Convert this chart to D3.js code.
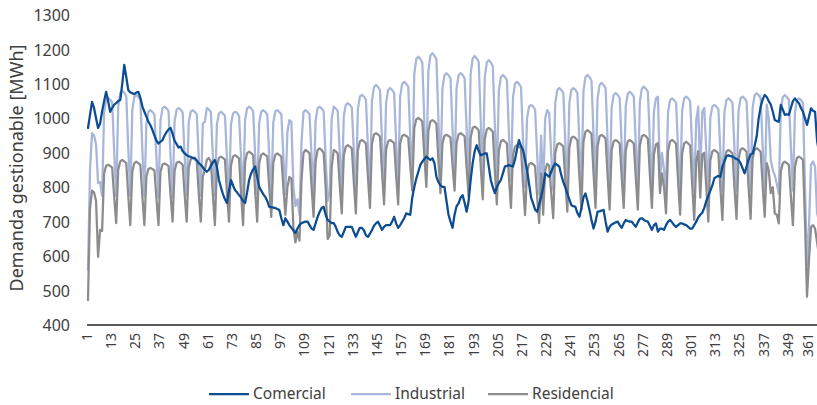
<!DOCTYPE html>
<html><head><meta charset="utf-8">
<script src="https://cdn.jsdelivr.net/npm/d3@7/dist/d3.min.js"></script>
<style>
html,body{margin:0;padding:0;background:#fff;}
svg{display:block;font-family:"Noto Sans",sans-serif;}
</style></head>
<body><svg id="chart" width="817" height="405"></svg>
<script>
const seriesNames = ["Comercial", "Industrial", "Residencial"];
const xTickLabels = [1,13,25,37,49,61,73,85,97,109,121,133,145,157,169,181,193,205,217,229,241,253,265,277,289,301,313,325,337,349,361];
const yTickLabels = [400,500,600,700,800,900,1000,1100,1200,1300];

const comercial = [
972,1010,1048,1030,1000,972,985,1020,1050,1077,
1050,1019,1030,1040,1044,1050,1053,1100,1155,1120,
1082,1075,1073,1070,1075,1077,1060,1035,1019,1005,
990,980,966,950,935,927,932,937,950,960,
968,972,955,935,925,915,918,905,898,893,
890,888,885,885,878,870,865,858,850,845,
850,862,872,879,860,821,800,780,765,754,
790,821,805,792,785,777,770,760,754,785,
821,840,852,860,830,801,790,780,772,760,
743,742,741,740,737,734,710,690,710,700,
690,682,675,667,680,690,696,698,700,700,
690,680,676,695,714,728,740,743,720,705,
700,696,696,685,670,660,656,670,685,685,
685,685,670,656,670,682,682,675,660,656,
665,676,688,695,700,688,676,685,690,690,
690,700,714,695,682,690,700,710,724,722,
720,770,800,825,845,865,874,882,889,884,
879,884,870,830,815,805,801,801,760,720,
700,682,720,745,753,770,777,755,729,760,
821,870,905,922,905,893,895,898,898,860,
821,800,783,800,812,821,840,860,862,864,
862,860,880,910,937,920,908,880,850,810,
770,753,735,729,750,772,800,840,835,830,
845,860,869,865,860,835,815,800,782,765,
748,745,743,725,714,740,770,782,760,734,
705,680,700,729,730,732,734,700,671,685,
692,695,698,700,690,682,695,705,702,700,
700,692,685,698,708,710,705,702,700,688,
676,690,695,671,680,680,676,690,700,705,
698,690,685,690,695,695,692,690,685,680,
680,690,700,712,720,726,740,760,775,790,
805,826,830,833,830,860,875,890,893,890,
889,885,882,879,870,855,840,860,880,895,
898,920,947,1000,1034,1055,1068,1062,1050,1040,
1020,995,992,990,1039,1025,1010,1012,1010,1030,
1050,1058,1050,1044,1030,1019,1000,981,1005,1029,
1022,1019,935,900,880];

const industrial = [
560,
850,957,950,925,812,815,775,
1017,1054,1060,1054,1046,903,775,
1034,1074,1080,1074,1065,912,775,
1024,1062,1068,1062,1053,907,775,
986,1019,1024,1019,1011,884,770,
994,1029,1034,1029,1021,889,770,
992,1025,1030,1025,1017,890,775,
987,1019,1024,1019,1012,887,775,
985,990,1030,1026,1018,890,775,
982,1014,1019,1014,1007,885,775,
982,1014,1019,1016,1006,884,775,
996,1029,1034,1029,1021,894,780,
987,1019,1024,1019,1012,890,780,
987,1020,1024,1018,1012,890,780,
960,995,990,800,745,765,720,
930,1018,1024,1019,1012,890,780,
993,1029,1034,1029,1020,883,760,
790,1000,1034,1029,1021,900,790,
1006,1039,1044,1039,1031,904,790,
1027,1063,1068,1063,1054,918,795,
1052,1091,1097,1091,1082,934,800,
1045,1082,1088,1082,1074,930,800,
1063,1100,1106,1100,1092,949,820,
1128,1172,1179,1172,1162,993,840,
1137,1182,1189,1182,1171,997,840,
1087,1125,1131,1125,1116,968,835,
1087,1125,1131,1126,1116,968,835,
1130,1174,1181,1174,1164,993,840,
1118,1162,1169,1162,1152,983,830,
1080,1120,1126,1120,1111,958,820,
1060,1100,1106,1100,1091,938,800,
1000,1034,1039,1034,1026,897,780,
950,790,1000,1024,1015,895,790,
1045,1082,1088,1082,1074,930,800,
1045,1082,1088,1083,1073,930,800,
1079,1120,1126,1120,1110,952,810,
1058,1097,1103,1097,1088,936,800,
1032,1068,1073,1068,1059,923,800,
1035,1071,1077,1071,1063,925,800,
1048,1086,1092,1086,1077,931,800,
1020,1058,1063,820,900,850,790,
1018,1053,1058,1053,1045,911,790,
1022,1058,1063,1058,1049,913,790,
995,1034,830,1020,1030,905,790,
1002,1034,1039,1034,1027,902,790,
1018,1053,1058,1053,1045,911,790,
1022,1058,1063,1058,1049,913,790,
1031,1067,1073,1067,1059,917,790,
1040,1000,880,850,835,810,780,
1026,1062,1068,1062,1054,915,790,
1016,1053,1058,1053,1045,800,575,
690,865,875,860,725,700,680];

const residencial = [
472,
740,790,785,760,598,676,673,
840,862,865,862,857,772,696,
851,875,879,875,870,775,690,
846,870,874,870,865,773,690,
831,853,856,853,848,765,690,
844,866,869,866,861,776,700,
848,871,874,871,865,778,700,
857,881,885,881,876,783,700,
830,850,880,885,875,780,690,
861,885,889,885,880,785,700,
863,889,893,889,883,781,690,
873,899,903,899,893,791,700,
870,894,898,894,889,797,714,
871,894,898,894,889,800,720,
800,830,825,680,640,670,645,
820,900,908,904,898,802,714,
874,908,913,908,900,800,650,
660,860,908,904,898,805,724,
892,918,922,918,912,813,724,
907,933,937,933,927,829,740,
926,953,957,953,947,843,750,
909,933,937,933,928,834,750,
928,949,952,949,944,863,790,
971,997,1001,997,991,891,801,
963,991,995,991,984,878,783,
928,949,952,949,944,863,790,
929,953,957,953,948,855,772,
944,972,976,972,965,860,765,
939,968,972,968,961,850,750,
907,933,937,933,927,829,740,
892,918,922,918,912,810,719,
844,867,870,867,861,774,696,
840,720,850,868,862,783,710,
898,924,928,924,918,819,729,
915,943,947,943,936,830,735,
932,961,966,961,955,842,740,
919,948,952,948,941,833,735,
907,933,937,933,927,829,740,
907,933,937,933,927,826,735,
920,948,952,948,941,835,740,
895,924,928,783,840,800,724,
904,933,937,933,926,818,720,
898,927,932,927,921,807,705,
875,905,770,895,900,800,700,
878,904,908,904,898,796,705,
878,904,908,904,898,798,708,
882,909,913,909,903,800,708,
883,909,913,909,903,804,714,
870,850,783,800,724,720,695,
846,870,874,870,865,773,690,
859,885,889,885,879,700,482,
590,685,690,680,640,600,570];

const days = d3.range(1, comercial.length + 1);
const colors = {Comercial:"#0b4c92", Industrial:"#a7b6d9", Residencial:"#8c8c8e"};

const svg = d3.select("#chart");
const x = d3.scaleLinear().domain([1, 365]).range([88, 88 + 364 * 2.014]);
const y = d3.scaleLinear().domain([400, 1300]).range([325, 15]);

// y axis labels
const yAxis = d3.axisLeft(y).tickValues(yTickLabels).tickSize(0).tickPadding(0).tickFormat(d3.format("d"));
svg.append("g").attr("transform", "translate(70,0)").call(yAxis)
  .call(g => g.select(".domain").remove())
  .call(g => g.selectAll("text").attr("font-size", 16).attr("fill", "#404040")
     .attr("font-family", "Noto Sans").attr("dy", "0.35em"));

// x axis
const xAxis = d3.axisBottom(x).tickValues(xTickLabels).tickSize(0).tickFormat(d3.format("d"));
const gx = svg.append("g").attr("transform", "translate(0,325)").call(xAxis);
gx.select(".domain").remove();
gx.selectAll("text").attr("font-size", 14).attr("fill", "#404040").attr("font-family", "Noto Sans")
  .attr("transform", "rotate(-90)").attr("text-anchor", "end")
  .attr("x", -8).attr("y", d => d === 361 ? -5 : -1.5).attr("dy", "0.35em");
svg.append("line").attr("x1", 87).attr("x2", 823).attr("y1", 325).attr("y2", 325)
  .attr("stroke", "#262626").attr("stroke-width", 1.5);

// y title
svg.append("text").attr("transform", "translate(17,168) rotate(-90)")
  .attr("text-anchor", "middle").attr("dy", "0.35em")
  .attr("font-size", 18).attr("fill", "#404040").text("Demanda gestionable [MWh]");

const line = d3.line().x((d, i) => x(days[i])).y(d => y(d));
const dataMap = {Comercial: comercial, Industrial: industrial, Residencial: residencial};
["Industrial", "Residencial", "Comercial"].forEach(name => {
  svg.append("path").datum(dataMap[name]).attr("d", line)
    .attr("fill", "none").attr("stroke", colors[name]).attr("stroke-width", 2.25)
    .attr("stroke-linejoin", "round").attr("stroke-linecap", "round");
});

// legend
const legendItems = [
  {name: "Comercial", x0: 209},
  {name: "Industrial", x0: 351},
  {name: "Residencial", x0: 488}
];
const lg = svg.append("g");
seriesNames.forEach((n, i) => {
  const it = legendItems[i];
  lg.append("line").attr("x1", it.x0).attr("x2", it.x0 + 40).attr("y1", 394).attr("y2", 394)
    .attr("stroke", colors[n]).attr("stroke-width", 2.25);
  lg.append("text").attr("x", it.x0 + 44).attr("y", 394).attr("dy", "0.35em")
    .attr("font-size", 15.5).attr("fill", "#404040").text(n);
});
</script></body></html>
